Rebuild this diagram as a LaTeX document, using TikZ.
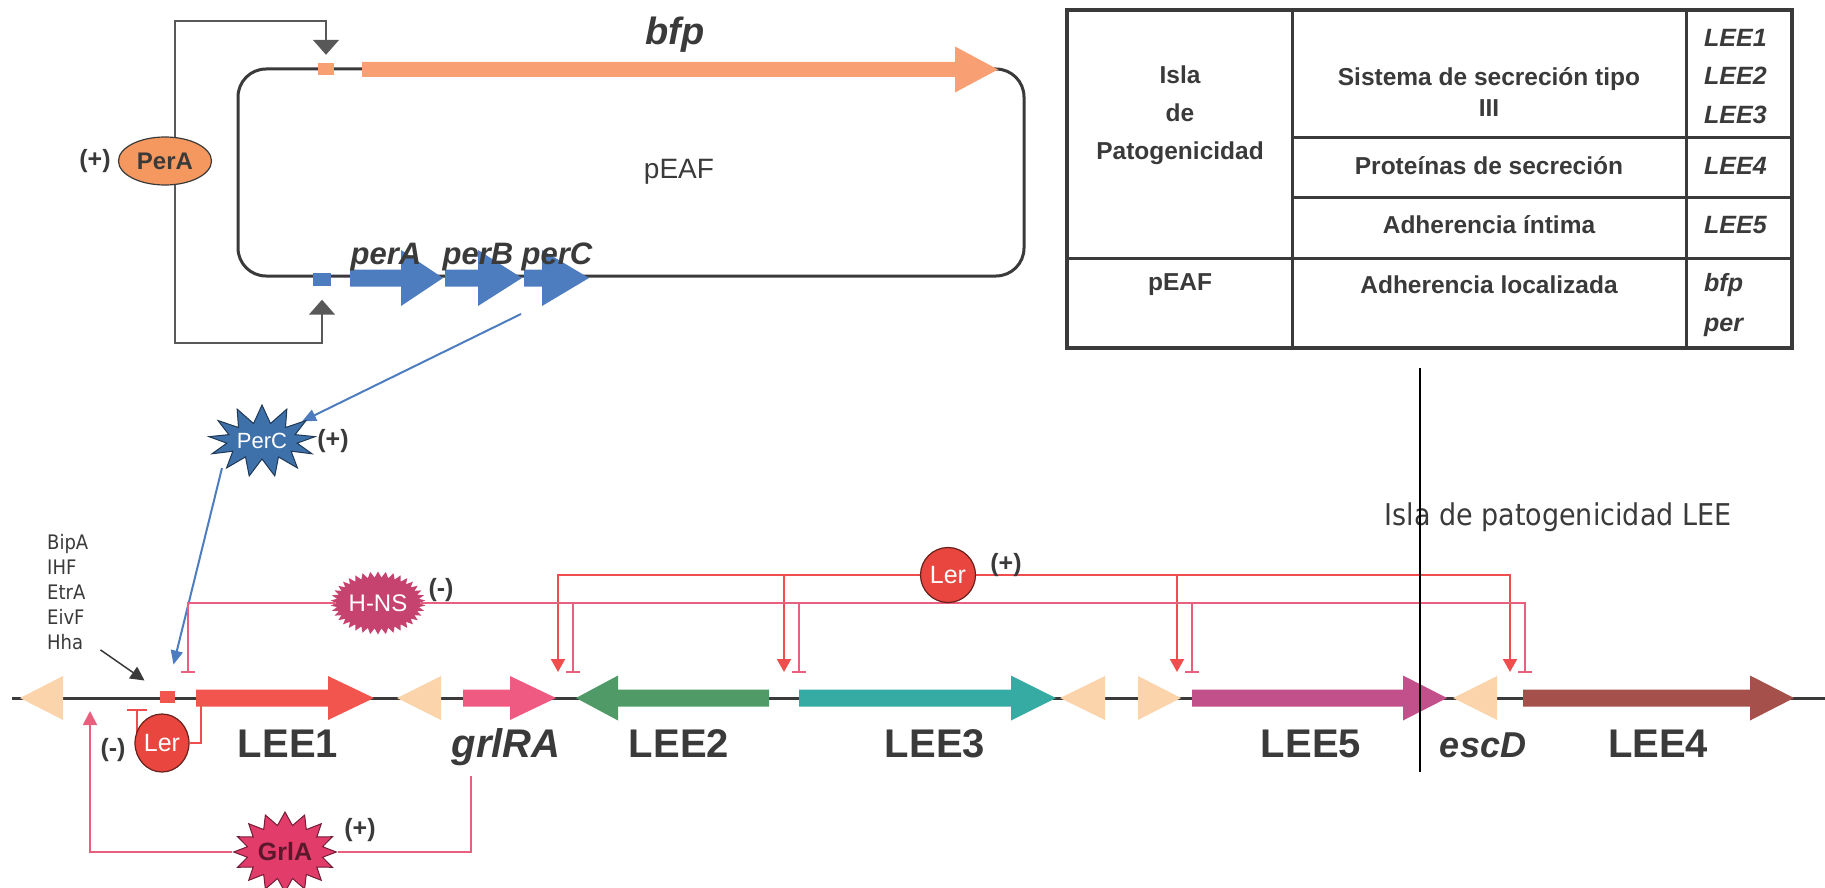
\documentclass[tikz,border=0pt]{standalone}
\usepackage{fontspec}
\setmainfont{Liberation Sans}
\newfontfamily\condfont{DejaVu Sans Condensed}
\usetikzlibrary{arrows.meta,shapes.geometric,shapes.symbols}

\definecolor{txt}{HTML}{3A3A3A}
\definecolor{bfpcol}{HTML}{F8A074}
\definecolor{percol}{HTML}{4D7DBF}
\definecolor{beige}{HTML}{FBD4AC}
\definecolor{lee1col}{HTML}{F2554D}
\definecolor{grlcol}{HTML}{EF5A82}
\definecolor{lee2col}{HTML}{4F9A66}
\definecolor{lee3col}{HTML}{36ABA3}
\definecolor{lee5col}{HTML}{C2508B}
\definecolor{lee4col}{HTML}{A6504C}
\definecolor{lercol}{HTML}{E8463E}
\definecolor{hnscol}{HTML}{C6426F}
\definecolor{grlAcol}{HTML}{E23C6B}
\definecolor{perCcol}{HTML}{3E71A9}
\definecolor{perAcol}{HTML}{F59860}
\definecolor{lerline}{HTML}{F04E4E}
\definecolor{hnsline}{HTML}{E8607E}

\pgfdeclarelayer{bg}
\pgfsetlayers{bg,main}

\newcommand{\genearrow}[7]{%
  \fill[#7] (#1,#4-#5) -- (#2,#4-#5) -- (#2,#4-#6) -- (#3,#4)
    -- (#2,#4+#6) -- (#2,#4+#5) -- (#1,#4+#5) -- cycle;}
\newcommand{\beigetri}[3]{%
  \fill[beige] (#1,#3-22) -- (#2,#3) -- (#1,#3+22) -- cycle;}

\begin{document}
\begin{tikzpicture}[x=1pt,y=-1pt,
  every node/.style={inner sep=0pt,text=txt},
  genelbl/.style={anchor=base,font=\fontsize{40}{40}\selectfont\bfseries},
  geneital/.style={anchor=base,font=\fontsize{40}{40}\selectfont\bfseries\itshape},
  perlbl/.style={anchor=base,font=\fontsize{31}{31}\selectfont\bfseries\itshape},
  sign/.style={font=\fontsize{25}{25}\selectfont\bfseries},
  tbltxt/.style={font=\fontsize{24.5}{38}\selectfont\bfseries},
  tblgene/.style={anchor=west,align=left,font=\fontsize{25}{38.5}\selectfont\bfseries\itshape},
  tblline/.style={draw=txt,line width=3pt},
  burst/.style={starburst,random starburst=0,line width=1pt},
  loopline/.style={draw=txt!85,line width=1.5pt},
  bluelink/.style={percol,line width=2pt,-{Triangle[width=12pt,length=14pt]}},
  lerlink/.style={lerline,line width=2pt},
  hnslink/.style={hnsline,line width=2pt},
  chrom/.style={txt,line width=3pt}]
\useasboundingbox (0,0) rectangle (1825,888);

\draw[tblline,line width=4pt] (1067,10) rectangle (1792,348);
\draw[tblline] (1292,10) -- (1292,348);
\draw[tblline] (1686,10) -- (1686,348);
\draw[tblline] (1292,138) -- (1792,138);
\draw[tblline] (1292,197) -- (1792,197);
\draw[tblline] (1067,258) -- (1792,258);
\node[tbltxt,align=center] (tIsla) at (1180,115) {Isla\\de\\Patogenicidad};
\node[tbltxt,align=center,font=\fontsize{24.5}{31}\selectfont\bfseries] (tSist) at (1489,92) {Sistema de secreción tipo\\III};
\node[tblgene] (tLEE13) at (1704,76.5) {LEE1\\LEE2\\LEE3};
\node[tbltxt] (tProt) at (1489,166) {Proteínas de secreción};
\node[tblgene] (tLEE4) at (1704,166) {LEE4};
\node[tbltxt] (tAdh) at (1489,225) {Adherencia íntima};
\node[tblgene] (tLEE5) at (1704,225) {LEE5};
\node[tbltxt] (tpEAF) at (1180,285) {pEAF};
\node[tbltxt] (tLoc) at (1489,285) {Adherencia localizada};
\node[tblgene,font=\fontsize{25}{40}\selectfont\bfseries\itshape] (tbfp) at (1704,305) {bfp\\per};

\draw[txt,line width=3pt,rounded corners=28pt] (238,69) rectangle (1024,276);
\genearrow{362}{955}{998}{69.5}{7.5}{23}{bfpcol}
\genearrow{350}{401}{443}{278}{8.5}{28}{percol}
\genearrow{445}{478}{522}{278}{8.5}{28}{percol}
\genearrow{524}{542}{589}{278}{8.5}{28}{percol}
\node[fill=bfpcol,minimum width=16pt,minimum height=12pt] (pbfp) at (326,69) {};
\node[fill=percol,minimum width=18pt,minimum height=13pt] (pper) at (322,279) {};
\node[geneital,font=\fontsize{38}{38}\selectfont\bfseries\itshape] (lbfp) at (675,45) {bfp};
\node[anchor=base,font=\fontsize{28}{28}\selectfont] (lpEAF) at (679,178) {pEAF};
\node[perlbl] (lperA) at (386,264) {perA};
\node[perlbl] (lperB) at (478,264) {perB};
\node[perlbl] (lperC) at (557,264) {perC};
\node[ellipse,draw=txt,fill=perAcol,line width=1.2pt,minimum width=93pt,minimum height=48pt,
  font=\fontsize{24}{24}\selectfont\bfseries] (nPerA) at (165,161) {PerA};
\node[sign] (sPerA) at (95,161) {(+)};
\coordinate (perCout) at (521,314);

\draw[chrom] (12,698) -- (1825,698);
\beigetri{63}{20}{698}
\beigetri{441}{397}{698}
\beigetri{1105}{1060}{698}
\beigetri{1138}{1181}{698}
\beigetri{1497}{1453}{698}
\genearrow{196}{328}{374}{698}{8.5}{22}{lee1col}
\genearrow{463}{510}{556}{698}{8.5}{22}{grlcol}
\genearrow{769}{618}{576}{698}{8.5}{22.5}{lee2col}
\genearrow{799}{1011}{1056}{698}{8.5}{22.5}{lee3col}
\genearrow{1192}{1403}{1447}{698}{8.5}{22.5}{lee5col}
\genearrow{1523}{1750}{1794}{698}{8.5}{22.5}{lee4col}
\node[fill=lee1col,minimum width=15pt,minimum height=12pt] (pLEE1) at (167,697) {};
\node[genelbl] (lLEE1) at (288,757) {LEE1};
\node[geneital] (lgrlRA) at (506,757) {grlRA};
\node[genelbl] (lLEE2) at (679,757) {LEE2};
\node[genelbl] (lLEE3) at (935,757) {LEE3};
\node[genelbl] (lLEE5) at (1311,757) {LEE5};
\node[geneital,font=\fontsize{36}{36}\selectfont\bfseries\itshape] (lescD) at (1483,757) {escD};
\node[genelbl] (lLEE4) at (1658,757) {LEE4};

\node[anchor=north west,align=left,font=\condfont\fontsize{20}{25}\selectfont] (regs) at (47,534) {BipA\\IHF\\EtrA\\EivF\\Hha};
\node[font=\condfont\fontsize{30}{30}\selectfont] (island) at (1558,517) {Isla de patogenicidad LEE};

\node[burst,draw=perCcol!50!black,fill=perCcol,starburst points=13,starburst point height=18pt,
  minimum width=98pt,minimum height=72pt,font=\fontsize{22}{22}\selectfont,text=white] (nPerC) at (262,441) {PerC};
\node[sign] (sPerC) at (333,441) {(+)};
\node[burst,fill=hnscol,starburst points=38,starburst point height=6pt,
  minimum width=91pt,minimum height=63pt,font=\fontsize{24}{24}\selectfont,text=white] (nHNS) at (378,603) {H-NS};
\node[sign] (sHNS) at (441,590) {(-)};
\node[circle,draw=lercol!45!black,fill=lercol,line width=1.2pt,minimum size=55pt,
  font=\fontsize{25}{25}\selectfont,text=white] (nLer2) at (948,575) {Ler};
\node[sign] (sLer2) at (1006,565) {(+)};
\node[ellipse,draw=lercol!45!black,fill=lercol,line width=1.2pt,minimum width=54pt,minimum height=58pt,
  font=\fontsize{25}{25}\selectfont,text=white] (nLer1) at (162,743) {Ler};
\node[sign] (sLer1) at (113,750) {(-)};
\node[burst,draw=grlAcol!50!black,fill=grlAcol,starburst points=16,starburst point height=13pt,
  minimum width=93pt,minimum height=80pt,font=\fontsize{25}{25}\selectfont\bfseries,text=grlAcol!40!black] (nGrlA) at (285,852) {GrlA};
\node[sign] (sGrlA) at (360,830) {(+)};

\coordinate (a2) at (558,672);
\coordinate (a3) at (784,672);
\coordinate (a5) at (1177,672);
\coordinate (a4) at (1510,672);
\coordinate (b1) at (188,673);
\coordinate (b2) at (573,673);
\coordinate (b3) at (799,673);
\coordinate (b5) at (1192,673);
\coordinate (b4) at (1525,673);
\coordinate (pr1) at (137,709);
\coordinate (g1) at (201,706);
\coordinate (pgrl) at (90,711);

\begin{pgfonlayer}{bg}
\draw[loopline,{Triangle[width=26pt,length=15pt]}-{Triangle[width=26pt,length=15pt]},shorten <=8pt,shorten >=14pt]
  (pbfp.north) |- (175,21) -- (175,343) -| (pper.south);
\draw[bluelink] (perCout) -- (nPerC);
\draw[bluelink,shorten >=27pt] ([shift={(-40,27)}]nPerC.center) -- (pLEE1.north);
\draw[txt,line width=1.5pt,-{Triangle[width=14pt,length=14pt]},shorten >=18pt] ([xshift=12pt]regs.south east) -- (pLEE1.north west);
\foreach \t in {a2,a3,a5,a4}
  \draw[lerlink,-{Triangle[width=14pt,length=13pt]}] (nLer2) -| (\t);
\foreach \t in {b1,b2,b3,b5,b4}
  \draw[hnslink,-{Bar[width=14pt]}] (nHNS) -| (\t);
\draw[lerlink,-{Bar[width=20pt]}] (pr1 |- nLer1.center) -- (pr1);
\draw[lerlink] (g1) |- (nLer1);
\draw[hnslink,-{Triangle[width=14pt,length=14pt]}] ([shift={(-35,10)}]lgrlRA.south) |- (nGrlA) -| (pgrl);
\end{pgfonlayer}

\draw[black,line width=1.2pt] (1420,368) -- (1420,772);
\end{tikzpicture}
\end{document}
